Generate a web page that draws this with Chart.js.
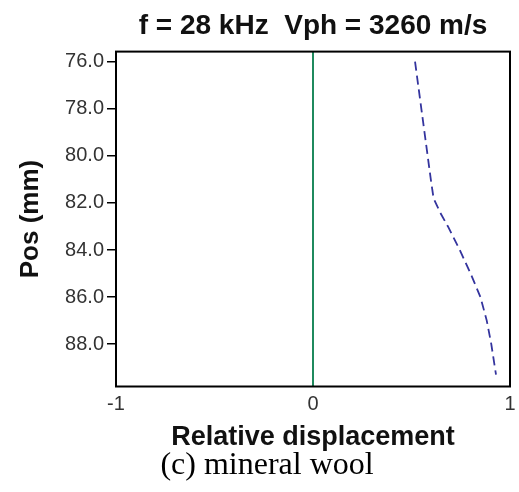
<!DOCTYPE html>
<html><head><meta charset="utf-8">
<script src="https://cdn.jsdelivr.net/npm/chart.js@4.4.1/dist/chart.umd.min.js"></script>
<style>html,body{margin:0;padding:0;background:#fff;overflow:hidden}</style>
</head><body>
<canvas id="c" width="519" height="492"></canvas>
<script>
// Data
const positions    = [76.0, 77.0, 78.0, 79.0, 80.0, 81.0, 81.8, 82.4, 83.0, 84.0, 85.0, 86.0, 87.0, 88.0, 89.3];
const displacement = [0.518, 0.534, 0.550, 0.566, 0.582, 0.598, 0.612, 0.645, 0.685, 0.745, 0.800, 0.850, 0.882, 0.905, 0.929];
const refPositions    = [75.57, 89.8];
const refDisplacement = [0, 0];
const yTickValues = [76, 78, 80, 82, 84, 86, 88];
const xTickValues = [-1, 0, 1];
const titleText = 'f = 28 kHz  Vph = 3260 m/s';
const xTitle = 'Relative displacement';
const yTitle = 'Pos (mm)';
const caption = '(c) mineral wool';

const toPts = (xs, ys) => xs.map((x, i) => ({x: x, y: ys[i]}));

const framePlugin = {
  id: 'frame',
  afterDatasetsDraw(chart) {
    const {ctx, chartArea: a} = chart;
    ctx.save();
    ctx.strokeStyle = '#000';
    ctx.lineWidth = 2;
    ctx.strokeRect(a.left, a.top, a.right - a.left, a.bottom - a.top);
    ctx.restore();
  }
};

new Chart(document.getElementById('c'), {
  type: 'scatter',
  data: {
    datasets: [
      {
        data: toPts(refDisplacement, refPositions),
        showLine: true, pointRadius: 0,
        borderColor: '#1f8a5e', borderWidth: 2
      },
      {
        data: toPts(displacement, positions),
        showLine: true, pointRadius: 0,
        borderColor: '#34349e', borderWidth: 1.8,
        borderDash: [9, 5]
      }
    ]
  },
  options: {
    responsive: false,
    animation: false,
    devicePixelRatio: 1,
    layout: {padding: {left: 15, right: 0, top: 0, bottom: 0}},
    plugins: {
      legend: {display: false},
      tooltip: {enabled: false},
      title: {
        display: true, text: titleText, fullSize: false,
        color: '#111',
        font: {family: 'Liberation Sans', size: 28, weight: 'bold', lineHeight: 1.2},
        padding: {top: 9, bottom: 9}
      },
      subtitle: {
        display: true, text: caption, position: 'bottom', fullSize: true,
        color: '#000',
        font: {family: 'Liberation Serif', size: 32, weight: 'normal', lineHeight: 1.0},
        padding: {top: 0, bottom: 10}
      }
    },
    scales: {
      x: {
        type: 'linear', min: -1, max: 1,
        afterBuildTicks: s => { s.ticks = xTickValues.map(v => ({value: v})); },
        afterFit: s => { s.height = 63.5; s.paddingRight = 9; },
        grid: {display: true, drawOnChartArea: false, drawTicks: false},
        border: {display: false},
        ticks: {
          padding: 6, color: '#333',
          font: {family: 'Liberation Sans', size: 20},
          callback: v => String(v)
        },
        title: {
          display: true, text: xTitle, color: '#111',
          font: {family: 'Liberation Sans', size: 27, weight: 'bold', lineHeight: 1.0},
          padding: {top: 0, bottom: -1}
        }
      },
      y: {
        type: 'linear', reverse: true, min: 75.57, max: 89.8,
        afterBuildTicks: s => { s.ticks = yTickValues.map(v => ({value: v})); },
        afterFit: s => { s.width = 101; },
        grid: {display: true, drawOnChartArea: false, drawTicks: true, tickLength: 9, color: '#000', lineWidth: 1.5},
        border: {display: false},
        ticks: {
          padding: 3, color: '#333',
          font: {family: 'Liberation Sans', size: 20},
          callback: v => Number(v).toFixed(1)
        },
        title: {
          display: true, text: yTitle, color: '#111',
          font: {family: 'Liberation Sans', size: 26, weight: 'bold', lineHeight: 1.2},
          padding: {top: 0, bottom: 0}
        }
      }
    }
  },
  plugins: [framePlugin]
});
</script>
</body></html>
